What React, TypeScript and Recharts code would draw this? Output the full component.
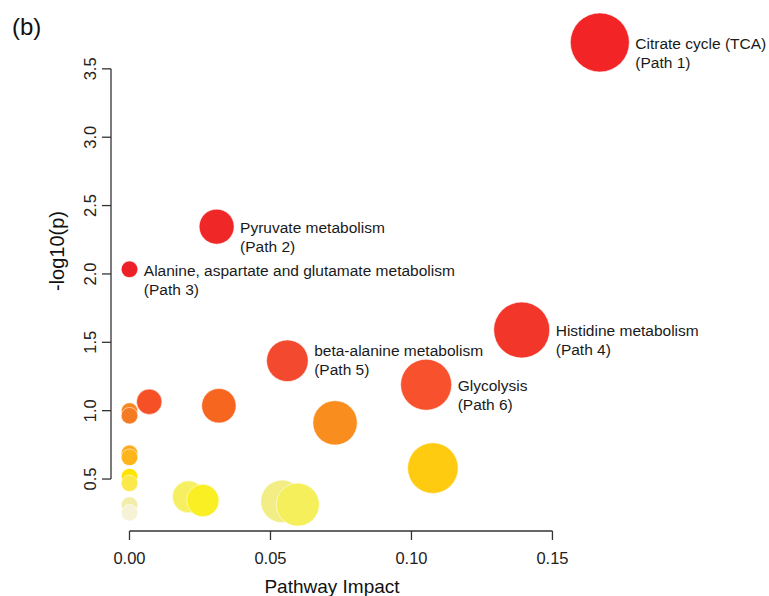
import { ScatterChart, Scatter, XAxis, YAxis, ZAxis, ReferenceLine } from "recharts";

// pathway impact (x), -log10(p) (y), bubble size (z)
const impact = [
  0, 0, 0, 0, 0, 0, 0, 0, 0,
  0.007, 0.0317, 0.0209, 0.026, 0.0541, 0.0597, 0.0729, 0.1076,
  0.0309, 0.056, 0.1052, 0.1391, 0.1668,
];
const logP = [
  0.31, 0.253, 0.517, 0.469, 0.688, 0.659, 0.997, 0.963, 2.034,
  1.065, 1.036, 0.37, 0.343, 0.337, 0.313, 0.911, 0.58,
  2.346, 1.365, 1.19, 1.59, 3.693,
];
const sizes = [
  6.9, 6.9, 6.9, 6.9, 6.9, 6.9, 6.9, 6.9, 6.9,
  16.1, 29.6, 25.6, 26.2, 45.4, 46.2, 49.3, 64,
  30.6, 43.3, 65, 78.4, 87,
];
const pathwayNames = [
  "", "", "", "", "", "", "", "", "Alanine, aspartate and glutamate metabolism",
  "", "", "", "", "", "", "", "",
  "Pyruvate metabolism", "beta-alanine metabolism", "Glycolysis", "Histidine metabolism", "Citrate cycle (TCA)",
];
const pathIds = [
  "", "", "", "", "", "", "", "", "(Path 3)",
  "", "", "", "", "", "", "", "",
  "(Path 2)", "(Path 5)", "(Path 6)", "(Path 4)", "(Path 1)",
];
const COLORS = [
  "#F2EEAA", "#F6F2D6", "#FFE400", "#FBE84A", "#FCAB1A", "#FDB51B", "#F8861E", "#F57A24", "#EE2027",
  "#F55026", "#F6661F", "#F6EF62", "#F9EF22", "#F2EE85", "#F4EF5A", "#F98E1F", "#FFCB10",
  "#F02727", "#F3492F", "#F7522D", "#F2372A", "#F22426",
];

const xTicks = [0, 0.05, 0.1, 0.15];
const yTicks = [0.5, 1.0, 1.5, 2.0, 2.5, 3.0, 3.5];

const X_MIN = -0.00656;
const X_MAX = 0.1736;
const Y_MIN = 0.12;
const Y_MAX = 3.828;

// beta-alanine label sits a bit higher so it clears the Glycolysis bubble
const labelNudge: Record<string, number> = { "beta-alanine metabolism": -11 };

const data = impact.map((x, i) => ({
  x,
  y: logP[i],
  z: sizes[i],
  name: pathwayNames[i],
  path: pathIds[i],
  fill: COLORS[i],
}));

const FONT = "'Liberation Sans', Arial, sans-serif";

const Bubble = (props: any) => {
  const { cx, cy, payload } = props;
  const r = props.size ? Math.sqrt(props.size / Math.PI) : props.width / 2;
  const ty = cy + 1 + (labelNudge[payload.name] || 0);
  return (
    <g>
      <circle cx={cx} cy={cy} r={r} fill={payload.fill} stroke="#ffffff" strokeWidth={0.7} strokeOpacity={0.8} />
      {payload.name && (
        <text x={cx + r + 6} y={ty} fontSize={15.5} fill="#1a1a1a" fontFamily={FONT}>
          <tspan x={cx + r + 6} dy="0.35em">{payload.name}</tspan>
          <tspan x={cx + r + 6} dy="19">{payload.path}</tspan>
        </text>
      )}
    </g>
  );
};

const YTick = (props: any) => {
  const { x, y, payload } = props;
  return (
    <text x={x} y={y} transform={`rotate(-90, ${x}, ${y})`} textAnchor="middle" fontSize={16.5} fill="#222" fontFamily={FONT}>
      {Number(payload.value).toFixed(1)}
    </text>
  );
};

export default function App() {
  return (
    <div style={{ position: "absolute", left: 0, top: 0, width: 769, height: 596, background: "#fff", fontFamily: FONT }}>
      <ScatterChart width={769} height={596} margin={{ top: 24, right: 150, bottom: 25, left: 51 }}>
        <XAxis
          type="number"
          dataKey="x"
          domain={[X_MIN, X_MAX]}
          ticks={xTicks}
          axisLine={false}
          tickSize={9}
          tickMargin={12}
          height={40}
          tickLine={{ stroke: "#333", strokeWidth: 1.3 }}
          tick={{ fontSize: 16.5, fill: "#222", fontFamily: FONT }}
          tickFormatter={(v: number) => v.toFixed(2)}
        />
        <YAxis
          type="number"
          dataKey="y"
          domain={[Y_MIN, Y_MAX]}
          ticks={yTicks}
          axisLine={false}
          tickSize={9}
          tickMargin={6}
          width={60}
          tickLine={{ stroke: "#333", strokeWidth: 1.3 }}
          tick={<YTick />}
        />
        <ZAxis type="number" dataKey="z" domain={[0, 100]} range={[0, 1000 * Math.PI]} />
        <ReferenceLine segment={[{ x: X_MIN, y: 0.5 }, { x: X_MIN, y: 3.5 }]} stroke="#333" strokeWidth={1.3} ifOverflow="visible" />
        <ReferenceLine segment={[{ x: 0, y: Y_MIN }, { x: 0.15, y: Y_MIN }]} stroke="#333" strokeWidth={1.3} ifOverflow="visible" />
        <Scatter data={data} shape={<Bubble />} isAnimationActive={false} />
        <text x={12} y={35} fontSize={24} fill="#111" fontFamily={FONT}>(b)</text>
        <text x={332} y={593} fontSize={19} fill="#111" textAnchor="middle" fontFamily={FONT}>Pathway Impact</text>
        <text x={64} y={251} fontSize={20} fill="#111" textAnchor="middle" transform="rotate(-90, 64, 251)" fontFamily={FONT}>-log10(p)</text>
      </ScatterChart>
    </div>
  );
}
